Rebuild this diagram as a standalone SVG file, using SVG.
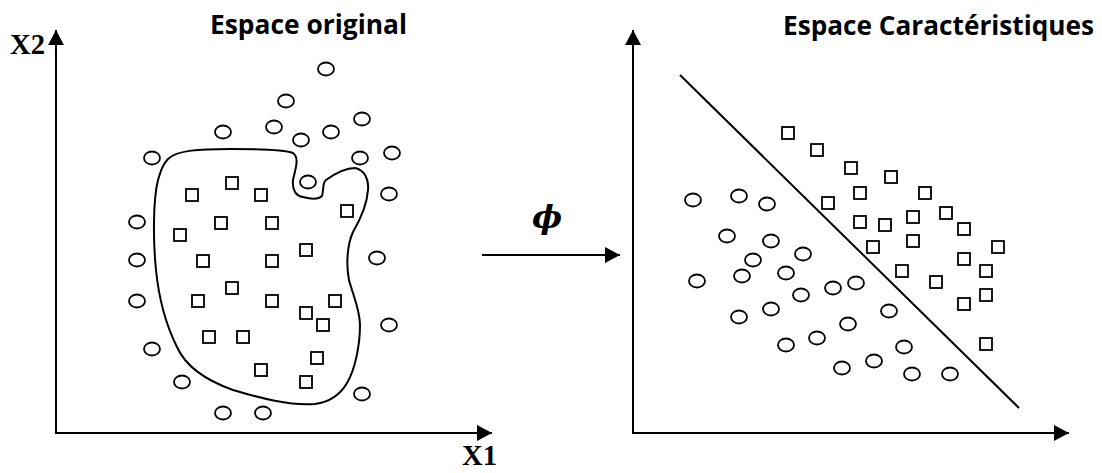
<svg xmlns="http://www.w3.org/2000/svg" width="1102" height="473" viewBox="0 0 1102 473">
<style>
.ax{stroke:#000;stroke-width:2;fill:none}
.c{fill:none;stroke:#000;stroke-width:1.8}
.s{fill:none;stroke:#000;stroke-width:1.8}
.title{font-family:"Open Sans","Liberation Sans",sans-serif;font-weight:bold;font-size:26px;fill:#000}
.axl{font-family:"Liberation Serif","DejaVu Serif",serif;font-weight:bold;font-size:29px;fill:#000}
</style>
<defs>
<marker id="ah" viewBox="0 0 15 16" refX="15" refY="8" markerWidth="15" markerHeight="16" markerUnits="userSpaceOnUse" orient="auto">
<path d="M0,0 L15,8 L0,16 Z" fill="#000"/>
</marker>
<ellipse id="o" cx="0" cy="0" rx="8" ry="6.5" class="c"/>
<rect id="q" x="-6" y="-6" width="12" height="12" class="s"/>
</defs>
<rect width="1102" height="473" fill="#fff"/>

<g id="left-panel">
<text class="title" x="210" y="34" textLength="197" lengthAdjust="spacingAndGlyphs">Espace original</text>
<text class="axl" x="10" y="54" textLength="35" lengthAdjust="spacingAndGlyphs">X2</text>
<text class="axl" x="462" y="465" font-size="27" textLength="35" lengthAdjust="spacingAndGlyphs">X1</text>
<g id="left-axes">
<line class="ax" x1="56" y1="434" x2="56" y2="30" marker-end="url(#ah)"/>
<line class="ax" x1="55" y1="433" x2="492" y2="433" marker-end="url(#ah)"/>
</g>
<path id="boundary" class="ax" d="M168,159 C177,150 200,149 230,149 C260,149 285,150 293,153 C300,158 295,170 293,180 C292,190 296,196 303,197 C310,199 318,200 322,196 C324,190 322,183 326,180 C333,175 345,168 355,168 C365,170 369,180 368,190 C367,205 360,220 353,232 C347,245 346,265 349,280 C353,295 360,310 360,325 C360,345 355,370 347,383 C340,395 330,402 315,404 C290,406 260,398 233,390 C205,380 185,365 177,347 C167,327 159,300 156,270 C153,240 153,200 158,180 C161,170 163,164 168,159 Z"/>
<g id="left-circles">
<use href="#o" x="326" y="69"/><use href="#o" x="286" y="101"/><use href="#o" x="223" y="132"/><use href="#o" x="274" y="127"/>
<use href="#o" x="301" y="140"/><use href="#o" x="331" y="132"/><use href="#o" x="362" y="119"/><use href="#o" x="152" y="158"/>
<use href="#o" x="360" y="158"/><use href="#o" x="392" y="153"/><use href="#o" x="308" y="182"/><use href="#o" x="389" y="194"/>
<use href="#o" x="137" y="222"/><use href="#o" x="137" y="260"/><use href="#o" x="377" y="258"/><use href="#o" x="137" y="301"/>
<use href="#o" x="389" y="325"/><use href="#o" x="152" y="349"/><use href="#o" x="182" y="382"/><use href="#o" x="362" y="394"/>
<use href="#o" x="223" y="413"/><use href="#o" x="263" y="413"/>
</g>
<g id="left-squares">
<use href="#q" x="232" y="183"/><use href="#q" x="192" y="195"/><use href="#q" x="261" y="195"/><use href="#q" x="347" y="211"/>
<use href="#q" x="221" y="223"/><use href="#q" x="272" y="223"/><use href="#q" x="180" y="235"/><use href="#q" x="306" y="250"/>
<use href="#q" x="203" y="261"/><use href="#q" x="272" y="261"/><use href="#q" x="232" y="288"/><use href="#q" x="198" y="301"/>
<use href="#q" x="272" y="301"/><use href="#q" x="335" y="301"/><use href="#q" x="306" y="313"/><use href="#q" x="323" y="325"/>
<use href="#q" x="209" y="337"/><use href="#q" x="243" y="337"/><use href="#q" x="317" y="358"/><use href="#q" x="261" y="370"/>
<use href="#q" x="306" y="382"/>
</g>
</g>

<g id="connectors">
<line id="phi-arrow" class="ax" x1="482" y1="255" x2="620" y2="255" marker-end="url(#ah)"/>
</g>
<text id="phi" x="547" y="228" text-anchor="middle" font-family="'DejaVu Serif','Liberation Serif',serif" font-style="italic" font-weight="bold" font-size="32">ϕ</text>

<g id="right-panel">
<text class="title" x="783" y="35" textLength="311" lengthAdjust="spacingAndGlyphs">Espace Caractéristiques</text>
<g id="right-axes">
<line class="ax" x1="633" y1="434" x2="633" y2="30" marker-end="url(#ah)"/>
<line class="ax" x1="632" y1="433" x2="1069" y2="433" marker-end="url(#ah)"/>
</g>
<line id="separator" class="ax" x1="680" y1="75" x2="1019" y2="408"/>
<g id="right-squares">
<use href="#q" x="788" y="133"/><use href="#q" x="817" y="150"/><use href="#q" x="851" y="168"/><use href="#q" x="891" y="177"/>
<use href="#q" x="828" y="203"/><use href="#q" x="860" y="193"/><use href="#q" x="925" y="193"/><use href="#q" x="860" y="222"/>
<use href="#q" x="885" y="225"/><use href="#q" x="913" y="217"/><use href="#q" x="946" y="213"/><use href="#q" x="964" y="229"/>
<use href="#q" x="913" y="241"/><use href="#q" x="873" y="247"/><use href="#q" x="998" y="247"/><use href="#q" x="964" y="259"/>
<use href="#q" x="902" y="271"/><use href="#q" x="986" y="271"/><use href="#q" x="936" y="282"/><use href="#q" x="986" y="295"/>
<use href="#q" x="964" y="304"/><use href="#q" x="986" y="344"/>
</g>
<g id="right-circles">
<use href="#o" x="693" y="200"/><use href="#o" x="739" y="196"/><use href="#o" x="767" y="204"/><use href="#o" x="727" y="236"/>
<use href="#o" x="771" y="241"/><use href="#o" x="803" y="254"/><use href="#o" x="753" y="260"/><use href="#o" x="697" y="281"/>
<use href="#o" x="742" y="276"/><use href="#o" x="786" y="273"/><use href="#o" x="801" y="295"/><use href="#o" x="833" y="288"/>
<use href="#o" x="856" y="283"/><use href="#o" x="739" y="317"/><use href="#o" x="771" y="309"/><use href="#o" x="848" y="324"/>
<use href="#o" x="786" y="345"/><use href="#o" x="817" y="338"/><use href="#o" x="842" y="368"/><use href="#o" x="889" y="311"/>
<use href="#o" x="904" y="347"/><use href="#o" x="874" y="361"/><use href="#o" x="912" y="374"/><use href="#o" x="950" y="374"/>
</g>
</g>
</svg>
